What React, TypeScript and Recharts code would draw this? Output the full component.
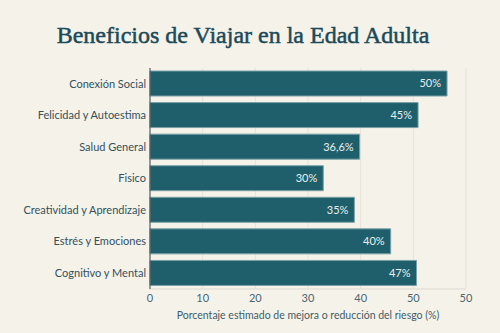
import { Bar, BarChart, CartesianGrid, LabelList, XAxis, YAxis } from "recharts";

const categories = [
  "Conexión Social",
  "Felicidad y Autoestima",
  "Salud General",
  "Fisico",
  "Creatividad y Aprendizaje",
  "Estrés y Emociones",
  "Cognitivo y Mental"
];

// bar lengths as drawn (they don't match the printed labels exactly)
const barValues = [56.4, 50.9, 39.8, 32.9, 38.8, 45.7, 50.6];
const valueLabels = ["50%", "45%", "36,6%", "30%", "35%", "40%", "47%"];

const xTicks = [0, 10, 20, 30, 40, 50, 60];
const xTickLabels = ["0", "10", "20", "30", "40", "50", "50"];

const data = categories.map((name, i) => ({
  name,
  value: barValues[i],
  label: valueLabels[i]
}));

const font = "Lato, 'Noto Sans', sans-serif";

function CategoryTick({ x, y, payload }: any) {
  return (
    <text
      x={x}
      y={y}
      dy="0.35em"
      textAnchor="end"
      fill="#34505a"
      fontSize={11}
      fontFamily={font}
    >
      {payload.value}
    </text>
  );
}

export default function App() {
  return (
    <div
      style={{
        position: "absolute",
        left: 0,
        top: 0,
        width: 500,
        height: 333,
        background: "#f5f2ea",
        overflow: "hidden"
      }}
    >
      <div
        style={{
          position: "absolute",
          top: 18,
          left: 0,
          width: 486,
          textAlign: "center",
          fontFamily: "'Liberation Serif', serif",
          fontSize: 24,
          color: "#1c4a58",
          WebkitTextStroke: "0.5px #1c4a58",
          lineHeight: "34px"
        }}
      >
        Beneficios de Viajar en la Edad Adulta
      </div>
      <div style={{ position: "absolute", left: 0, top: 0 }}>
        <BarChart
          width={500}
          height={333}
          data={data}
          layout="vertical"
          margin={{ top: 68, right: 34, left: 0, bottom: 14 }}
        >
          <CartesianGrid horizontal={false} stroke="#e7e3d9" />
          <XAxis
            type="number"
            domain={[0, 60]}
            ticks={xTicks}
            tickFormatter={(v, i) => xTickLabels[i]}
            tickLine={false}
            tickSize={0}
            tickMargin={5}
            axisLine={{ stroke: "#ddd9cf" }}
            height={30}
            tick={{ fill: "#4a6670", fontSize: 11, fontFamily: font }}
            label={{
              value: "Porcentaje estimado de mejora o reducción del riesgo (%)",
              position: "insideBottom",
              offset: 0,
              fill: "#3f5c66",
              fontSize: 10.5,
              fontFamily: font
            }}
          />
          <YAxis
            type="category"
            dataKey="name"
            width={150}
            tickLine={false}
            tickSize={0}
            tickMargin={4}
            axisLine={{ stroke: "#3b4a50" }}
            tick={<CategoryTick />}
            interval={0}
          />
          <Bar
            dataKey="value"
            fill="#1f5f6b"
            stroke="#7aa1a8"
            strokeWidth={1}
            barSize={25}
            isAnimationActive={false}
          >
            <LabelList
              dataKey="label"
              position="insideRight"
              offset={6}
              fill="#e9efee"
              fontSize={11}
              fontFamily={font}
            />
          </Bar>
        </BarChart>
      </div>
    </div>
  );
}
